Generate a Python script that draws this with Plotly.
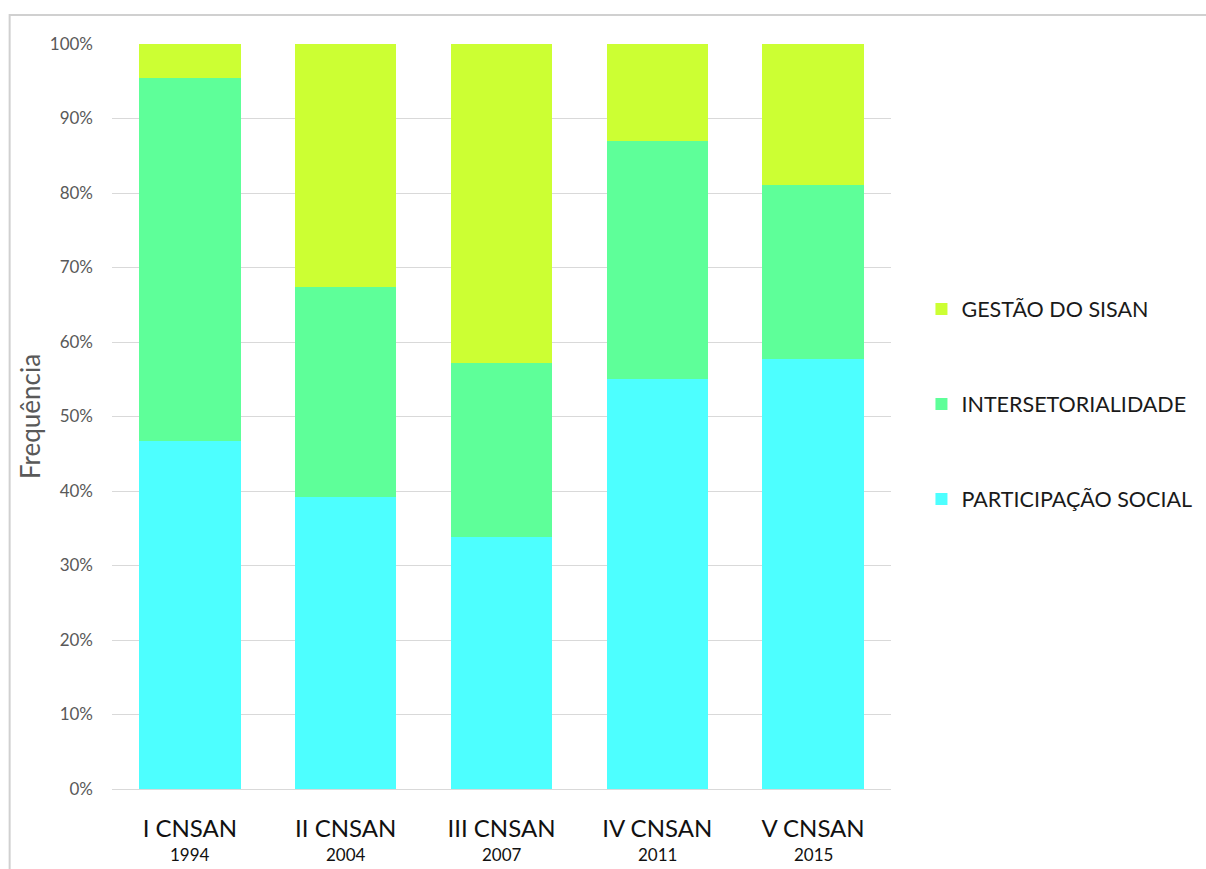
import plotly.graph_objects as go

# Conferências Nacionais de Segurança Alimentar e Nutricional
conferencias = ["I CNSAN", "II CNSAN", "III CNSAN", "IV CNSAN", "V CNSAN"]
anos = ["1994", "2004", "2007", "2011", "2015"]

# Share of each theme (%) per conference
participacao_social = [46.7, 39.2, 33.8, 55.0, 57.7]
intersetorialidade = [48.7, 28.2, 23.4, 32.0, 23.4]
gestao_sisan = [4.6, 32.6, 42.8, 13.0, 18.9]

y_ticks = [0, 10, 20, 30, 40, 50, 60, 70, 80, 90, 100]

cor_part = "#4DFFFF"
cor_inter = "#5EFF99"
cor_gestao = "#CCFF33"

W, H = 1206, 869
ML, MR, MT, MB = 111.5, 314.5, 44, 80
PW, PH = W - ML - MR, H - MT - MB


def px_x(x):
    return (x - ML) / PW


def px_y(y):
    return (H - MB - y) / PH


fig = go.Figure()
series = [
    ("PARTICIPAÇÃO SOCIAL", participacao_social, cor_part, 3),
    ("INTERSETORIALIDADE", intersetorialidade, cor_inter, 2),
    ("GESTÃO DO SISAN", gestao_sisan, cor_gestao, 1),
]
for i, (nome, vals, cor, rank) in enumerate(series):
    fig.add_trace(go.Bar(
        x=conferencias, y=vals, name=nome,
        marker=dict(color=cor, line=dict(width=0)),
        legendgroup=f"g{i}", legendrank=rank,
    ))

# Year under each conference name
annotations = [
    dict(x=c, y=px_y(854), xref="x", yref="paper", text=a, showarrow=False,
         font=dict(size=17, color="#111111"), xanchor="center", yanchor="middle")
    for c, a in zip(conferencias, anos)
]

fig.update_layout(
    width=W, height=H,
    margin=dict(l=ML, r=MR, t=MT, b=MB, pad=0, autoexpand=False),
    barmode="stack",
    bargap=0.35,
    plot_bgcolor="white",
    paper_bgcolor="white",
    font=dict(family="Lato, Open Sans, sans-serif", color="#595959"),
    showlegend=True,
    legend=dict(
        x=px_x(922), y=px_y(404), xanchor="left", yanchor="middle",
        traceorder="grouped", tracegroupgap=64,
        font=dict(size=21.5, color="#1a1a1a"),
        bgcolor="rgba(0,0,0,0)",
    ),
    xaxis=dict(
        tickmode="array", tickvals=conferencias, ticktext=conferencias,
        tickfont=dict(size=24, color="#111111"),
        showline=True, linecolor="#D9D9D9", linewidth=1,
        ticks="", showgrid=False, ticklabelstandoff=18, automargin=False,
    ),
    yaxis=dict(
        range=[0, 100], tickvals=y_ticks,
        ticktext=[f"{v}%" for v in y_ticks],
        tickfont=dict(size=17, color="#595959"),
        showgrid=True, gridcolor="#D9D9D9", gridwidth=1,
        zeroline=False, ticks="", ticklabelstandoff=18, automargin=False,
        title=dict(text="Frequência", font=dict(size=26, color="#595959"), standoff=1),
    ),
    annotations=annotations,
    shapes=[
        dict(type="rect", xref="paper", yref="paper",
             x0=px_x(9), x1=px_x(1230), y0=px_y(900), y1=px_y(15),
             line=dict(color="#D0D0D0", width=2), fillcolor="rgba(0,0,0,0)", layer="below"),
    ],
)

fig.write_html("out.html")
